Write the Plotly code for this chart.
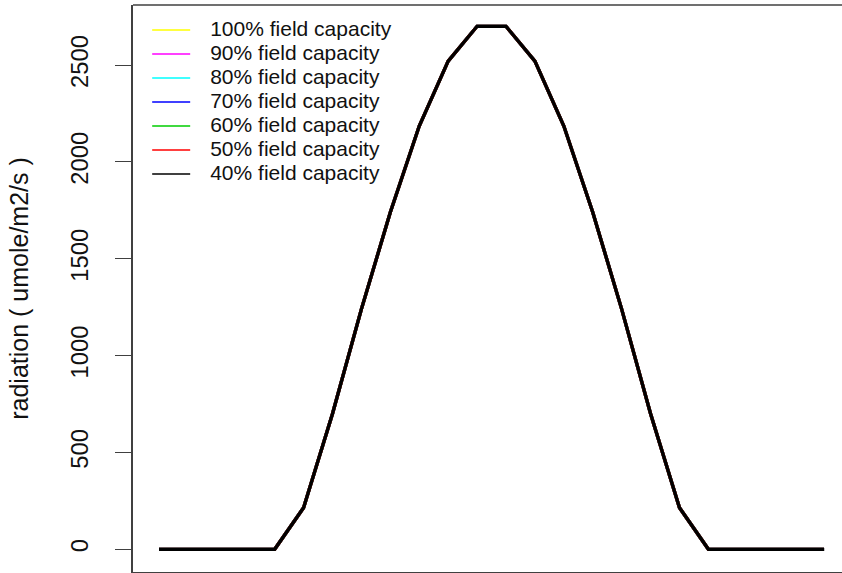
import plotly.graph_objects as go

hours = list(range(1, 25))
radiation = [0, 0, 0, 0, 0, 215, 700, 1240, 1740, 2185, 2520, 2700,
             2700, 2520, 2185, 1740, 1240, 700, 215, 0, 0, 0, 0, 0]
series_names = ["100% field capacity", "90% field capacity", "80% field capacity",
                "70% field capacity", "60% field capacity", "50% field capacity",
                "40% field capacity"]
series_colors = ["#FFFF00", "#FF00FF", "#00FFFF", "#0000FF", "#00CD00", "#FF0000", "#000000"]
series_values = {name: radiation for name in series_names}
y_ticks = [0, 500, 1000, 1500, 2000, 2500]

fig = go.Figure()
for name, color in zip(series_names, series_colors):
    fig.add_trace(go.Scatter(x=hours, y=series_values[name], mode="lines",
                             line=dict(color=color, width=3.3), showlegend=False,
                             hoverinfo="skip"))
for name, color in zip(series_names, series_colors):
    label = ('<span style="font-size:27px">&nbsp;&nbsp;</span>'
             '<span style="font-size:21px">' + name + '</span>')
    fig.add_trace(go.Scatter(x=[None], y=[None], mode="lines", name=label,
                             line=dict(color=color, width=1.5)))

fig.update_layout(
    width=842, height=573,
    margin=dict(l=133, r=0, t=5, b=1),
    paper_bgcolor="white", plot_bgcolor="white",
    font=dict(family="Liberation Sans, Arial, sans-serif", color="#111111"),
    legend=dict(x=0.02, y=0.986, xanchor="left", yanchor="top",
                font=dict(size=16.15, color="#111111"), bgcolor="rgba(0,0,0,0)",
                tracegroupgap=0, itemwidth=38),
    xaxis=dict(range=[0.1008, 24.62], showgrid=False, zeroline=False,
               showticklabels=False, ticks="", showline=True,
               linecolor="#404040", linewidth=1.5),
    yaxis=dict(range=[-117.2, 2810], showgrid=False, zeroline=False,
               tickvals=y_ticks, ticks="outside", ticklen=16, tickwidth=1.3,
               tickcolor="#404040", tickangle=-90, ticklabelstandoff=18,
               tickfont=dict(size=23.8, color="#111111"),
               showline=True, linecolor="#404040", linewidth=1.5,
               title=dict(text="radiation ( umole/m2/s )", standoff=30,
                          font=dict(size=25, color="#111111"))),
)
fig.add_shape(type="line", xref="paper", yref="paper", x0=0, x1=1, y0=1, y1=1,
              line=dict(color="#404040", width=1.5))

fig.write_html("out.html")
